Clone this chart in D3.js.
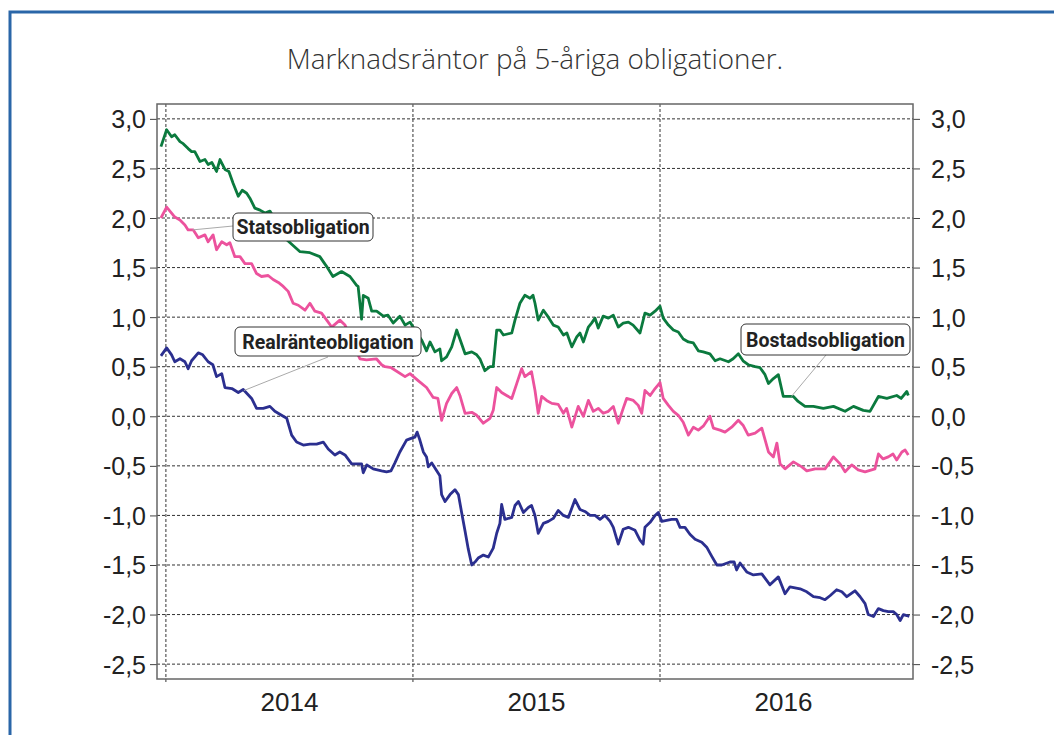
<!DOCTYPE html>
<html>
<head>
<meta charset="utf-8">
<script src="https://cdn.jsdelivr.net/npm/d3@7"></script>
<style>
  body { margin: 0; background: #fff; }
  svg { display: block; }
</style>
</head>
<body>
<div id="chart"></div>
<script>
// values: [decimal year, percent]
var bostad = [
  [2013.980,2.72],[2014.003,2.89],[2014.023,2.82],[2014.036,2.84],[2014.057,2.77],[2014.070,2.75],
  [2014.090,2.70],[2014.104,2.67],[2014.117,2.67],[2014.138,2.57],[2014.158,2.59],[2014.171,2.54],
  [2014.186,2.56],[2014.205,2.47],[2014.219,2.59],[2014.239,2.49],[2014.255,2.47],[2014.272,2.35],
  [2014.293,2.22],[2014.309,2.28],[2014.327,2.25],[2014.340,2.20],[2014.360,2.10],[2014.381,2.08],
  [2014.401,2.05],[2014.421,2.07],[2014.489,1.78],[2014.543,1.66],[2014.583,1.65],[2014.623,1.61],
  [2014.651,1.51],[2014.676,1.41],[2014.711,1.46],[2014.745,1.41],[2014.772,1.32],[2014.778,1.31],
  [2014.792,0.98],[2014.799,1.22],[2014.819,1.19],[2014.833,1.06],[2014.853,1.06],[2014.880,1.01],
  [2014.899,1.02],[2014.920,0.94],[2014.947,1.01],[2014.968,0.92],[2014.988,0.95],[2015.008,0.87],
  [2015.035,0.77],[2015.055,0.66],[2015.069,0.75],[2015.089,0.65],[2015.109,0.68],[2015.116,0.56],
  [2015.136,0.60],[2015.157,0.70],[2015.177,0.87],[2015.190,0.78],[2015.211,0.63],[2015.238,0.65],
  [2015.258,0.62],[2015.271,0.58],[2015.291,0.46],[2015.312,0.50],[2015.325,0.50],[2015.339,0.87],
  [2015.352,0.87],[2015.366,0.82],[2015.400,0.84],[2015.413,0.97],[2015.433,1.14],[2015.453,1.22],
  [2015.474,1.19],[2015.486,1.22],[2015.494,1.14],[2015.507,0.97],[2015.528,1.07],[2015.548,1.00],
  [2015.568,0.92],[2015.588,0.90],[2015.609,0.82],[2015.623,0.84],[2015.643,0.70],[2015.663,0.80],
  [2015.676,0.84],[2015.690,0.75],[2015.710,0.90],[2015.723,0.94],[2015.737,0.99],[2015.750,0.89],
  [2015.770,1.01],[2015.791,0.99],[2015.811,1.02],[2015.831,0.90],[2015.851,0.94],[2015.872,0.95],
  [2015.891,0.92],[2015.919,0.84],[2015.939,1.04],[2015.960,1.02],[2015.980,1.06],[2016.000,1.11],
  [2016.013,0.99],[2016.034,0.92],[2016.054,0.87],[2016.074,0.85],[2016.094,0.78],[2016.115,0.75],
  [2016.135,0.74],[2016.155,0.66],[2016.175,0.65],[2016.202,0.63],[2016.223,0.56],[2016.243,0.58],
  [2016.277,0.55],[2016.296,0.58],[2016.317,0.63],[2016.336,0.56],[2016.357,0.52],[2016.385,0.50],
  [2016.405,0.49],[2016.425,0.42],[2016.439,0.33],[2016.459,0.38],[2016.479,0.42],[2016.499,0.20],
  [2016.540,0.20],[2016.559,0.15],[2016.587,0.10],[2016.621,0.10],[2016.661,0.08],[2016.702,0.10],
  [2016.749,0.05],[2016.783,0.10],[2016.823,0.06],[2016.850,0.05],[2016.884,0.20],[2016.918,0.18],
  [2016.958,0.21],[2016.976,0.18],[2016.999,0.25],[2017.005,0.21]
];

var stats = [
  [2013.980,2.00],[2014.003,2.11],[2014.023,2.05],[2014.036,2.01],[2014.057,1.98],[2014.077,1.93],
  [2014.090,1.88],[2014.111,1.88],[2014.131,1.80],[2014.158,1.83],[2014.171,1.76],[2014.191,1.83],
  [2014.205,1.68],[2014.226,1.76],[2014.246,1.73],[2014.259,1.75],[2014.279,1.61],[2014.300,1.61],
  [2014.320,1.54],[2014.347,1.54],[2014.367,1.44],[2014.387,1.41],[2014.414,1.42],[2014.434,1.38],
  [2014.455,1.35],[2014.475,1.31],[2014.495,1.26],[2014.515,1.14],[2014.536,1.12],[2014.563,1.07],
  [2014.583,1.14],[2014.603,1.06],[2014.630,1.04],[2014.651,0.97],[2014.671,0.90],[2014.704,0.97],
  [2014.725,0.92],[2014.785,0.58],[2014.812,0.57],[2014.852,0.58],[2014.873,0.52],[2014.887,0.50],
  [2014.912,0.49],[2014.968,0.40],[2014.988,0.43],[2015.021,0.36],[2015.055,0.29],[2015.082,0.19],
  [2015.101,0.18],[2015.116,-0.04],[2015.136,0.13],[2015.157,0.23],[2015.177,0.29],[2015.190,0.21],
  [2015.211,0.03],[2015.238,0.04],[2015.258,0.01],[2015.285,-0.07],[2015.312,-0.02],[2015.325,0.06],
  [2015.339,0.29],[2015.359,0.24],[2015.379,0.21],[2015.400,0.18],[2015.420,0.33],[2015.440,0.48],
  [2015.453,0.40],[2015.480,0.45],[2015.494,0.26],[2015.507,0.03],[2015.521,0.20],[2015.541,0.16],
  [2015.562,0.13],[2015.588,0.12],[2015.609,0.03],[2015.622,0.08],[2015.643,-0.11],[2015.669,0.10],
  [2015.690,0.00],[2015.710,0.16],[2015.730,0.05],[2015.750,0.08],[2015.770,0.03],[2015.791,0.05],
  [2015.811,0.10],[2015.831,-0.07],[2015.851,0.08],[2015.865,0.18],[2015.892,0.16],[2015.912,0.11],
  [2015.926,0.03],[2015.939,0.26],[2015.960,0.21],[2015.980,0.28],[2016.000,0.34],[2016.013,0.18],
  [2016.034,0.11],[2016.054,0.05],[2016.074,0.01],[2016.094,-0.06],[2016.115,-0.19],[2016.135,-0.11],
  [2016.155,-0.14],[2016.175,-0.10],[2016.202,0.00],[2016.216,-0.12],[2016.243,-0.14],[2016.263,-0.16],
  [2016.290,-0.11],[2016.317,-0.04],[2016.336,-0.09],[2016.357,-0.19],[2016.385,-0.17],[2016.412,-0.12],
  [2016.439,-0.36],[2016.459,-0.41],[2016.473,-0.27],[2016.486,-0.48],[2016.506,-0.53],[2016.540,-0.46],
  [2016.574,-0.51],[2016.594,-0.55],[2016.628,-0.53],[2016.668,-0.53],[2016.702,-0.41],[2016.729,-0.48],
  [2016.749,-0.56],[2016.776,-0.49],[2016.802,-0.54],[2016.830,-0.56],[2016.870,-0.53],[2016.884,-0.38],
  [2016.903,-0.43],[2016.924,-0.41],[2016.943,-0.38],[2016.958,-0.44],[2016.979,-0.36],[2016.992,-0.34],
  [2017.005,-0.39]
];

var real = [
  [2013.980,0.61],[2014.003,0.69],[2014.023,0.62],[2014.036,0.55],[2014.057,0.58],[2014.077,0.55],
  [2014.090,0.48],[2014.104,0.56],[2014.131,0.64],[2014.149,0.62],[2014.171,0.55],[2014.190,0.52],
  [2014.205,0.40],[2014.226,0.43],[2014.239,0.29],[2014.267,0.28],[2014.293,0.24],[2014.313,0.27],
  [2014.347,0.18],[2014.367,0.08],[2014.394,0.08],[2014.421,0.10],[2014.441,0.05],[2014.468,0.01],
  [2014.489,-0.02],[2014.509,-0.19],[2014.529,-0.26],[2014.556,-0.29],[2014.583,-0.28],[2014.610,-0.28],
  [2014.637,-0.26],[2014.657,-0.33],[2014.684,-0.39],[2014.704,-0.36],[2014.725,-0.39],[2014.752,-0.48],
  [2014.772,-0.48],[2014.792,-0.48],[2014.799,-0.57],[2014.813,-0.49],[2014.839,-0.53],[2014.873,-0.55],
  [2014.893,-0.56],[2014.911,-0.55],[2014.927,-0.47],[2014.947,-0.36],[2014.974,-0.24],[2014.995,-0.22],
  [2015.008,-0.21],[2015.017,-0.16],[2015.028,-0.24],[2015.042,-0.36],[2015.055,-0.41],[2015.062,-0.51],
  [2015.076,-0.47],[2015.096,-0.55],[2015.109,-0.60],[2015.116,-0.79],[2015.130,-0.86],[2015.150,-0.79],
  [2015.170,-0.74],[2015.184,-0.79],[2015.197,-0.97],[2015.211,-1.16],[2015.224,-1.34],[2015.238,-1.50],
  [2015.251,-1.47],[2015.264,-1.43],[2015.285,-1.40],[2015.305,-1.42],[2015.325,-1.33],[2015.339,-1.18],
  [2015.352,-1.08],[2015.359,-0.89],[2015.372,-1.04],[2015.400,-1.02],[2015.413,-0.90],[2015.427,-0.86],
  [2015.447,-0.97],[2015.467,-0.92],[2015.480,-0.90],[2015.494,-1.00],[2015.507,-1.18],[2015.528,-1.08],
  [2015.548,-1.06],[2015.568,-1.03],[2015.588,-0.95],[2015.609,-1.00],[2015.629,-1.02],[2015.656,-0.84],
  [2015.676,-0.94],[2015.696,-0.96],[2015.717,-1.00],[2015.737,-1.00],[2015.757,-1.04],[2015.777,-1.00],
  [2015.798,-1.06],[2015.811,-1.12],[2015.831,-1.29],[2015.851,-1.14],[2015.872,-1.12],[2015.899,-1.15],
  [2015.919,-1.25],[2015.932,-1.29],[2015.939,-1.12],[2015.960,-1.07],[2015.980,-1.00],[2015.993,-0.97],
  [2016.007,-1.06],[2016.027,-1.05],[2016.047,-1.04],[2016.067,-1.04],[2016.081,-1.12],[2016.101,-1.12],
  [2016.121,-1.19],[2016.142,-1.24],[2016.169,-1.27],[2016.189,-1.32],[2016.209,-1.41],[2016.230,-1.50],
  [2016.250,-1.50],[2016.283,-1.47],[2016.300,-1.47],[2016.310,-1.55],[2016.324,-1.48],[2016.351,-1.57],
  [2016.378,-1.60],[2016.412,-1.59],[2016.445,-1.70],[2016.479,-1.62],[2016.506,-1.79],[2016.526,-1.72],
  [2016.567,-1.74],[2016.594,-1.77],[2016.621,-1.82],[2016.648,-1.83],[2016.668,-1.85],[2016.688,-1.81],
  [2016.715,-1.75],[2016.736,-1.77],[2016.756,-1.82],[2016.789,-1.76],[2016.810,-1.82],[2016.830,-1.89],
  [2016.843,-2.00],[2016.864,-2.02],[2016.884,-1.94],[2016.904,-1.96],[2016.924,-1.97],[2016.944,-1.97],
  [2016.958,-2.00],[2016.972,-2.06],[2016.985,-2.00],[2016.999,-2.01],[2017.009,-2.02]
];

var yTicks = [-2.5, -2.0, -1.5, -1.0, -0.5, 0.0, 0.5, 1.0, 1.5, 2.0, 2.5, 3.0];
var years = [2014, 2015, 2016];
var yearBounds = [2014, 2015, 2016];

var width = 1054, height = 735;
var plotL = 157, plotR = 913, plotT = 104, plotB = 679;

var svg = d3.select("#chart").append("svg")
    .attr("width", width)
    .attr("height", height);

// blue frame round the panel
svg.append("rect")
    .attr("x", 10).attr("y", 12)
    .attr("width", 1100).attr("height", 800)
    .attr("fill", "none")
    .attr("stroke", "#2a66a8")
    .attr("stroke-width", 3);

svg.append("text")
    .attr("x", 535).attr("y", 69)
    .attr("text-anchor", "middle")
    .attr("font-family", "'Open Sans', sans-serif")
    .attr("font-weight", 300)
    .attr("font-size", 27.8)
    .attr("fill", "#333")
    .text("Marknadsräntor på 5-åriga obligationer.");

var x = d3.scaleLinear().domain([2013.964, 2017.024]).range([plotL, plotR]);
var y = d3.scaleLinear().domain([-2.65, 3.15]).range([plotB, plotT]);

var fmt = function(d) { return d.toFixed(1).replace(".", ","); };

// grid
svg.append("g").selectAll("line")
  .data(yTicks).enter().append("line")
    .attr("x1", plotL).attr("x2", plotR)
    .attr("y1", function(d) { return y(d); })
    .attr("y2", function(d) { return y(d); })
    .attr("stroke", "#333").attr("stroke-width", 1)
    .attr("stroke-dasharray", "3,2");

svg.append("g").selectAll("line")
  .data(yearBounds).enter().append("line")
    .attr("x1", function(d) { return x(d); })
    .attr("x2", function(d) { return x(d); })
    .attr("y1", plotT).attr("y2", plotB + 5)
    .attr("stroke", "#333").attr("stroke-width", 1)
    .attr("stroke-dasharray", "3,2");

// axes
var axisFont = "'Liberation Sans', Arial, sans-serif";
var gl = svg.append("g").attr("transform", "translate(" + plotL + ",0)")
    .call(d3.axisLeft(y).tickValues(yTicks).tickFormat(fmt).tickSize(7).tickPadding(4));
var gr = svg.append("g").attr("transform", "translate(" + plotR + ",0)")
    .call(d3.axisRight(y).tickValues(yTicks).tickFormat(fmt).tickSize(7).tickPadding(11));
[gl, gr].forEach(function(g) {
  g.select(".domain").remove();
  g.selectAll("line").attr("stroke", "#444");
  g.selectAll("text").attr("font-family", axisFont).attr("font-size", 25)
    .attr("fill", "#222").attr("dy", "0.36em");
});

svg.append("g").selectAll("text")
  .data(years).enter().append("text")
    .attr("x", function(d) { return x(d + 0.5); })
    .attr("y", 711)
    .attr("text-anchor", "middle")
    .attr("font-family", axisFont).attr("font-size", 26)
    .attr("fill", "#222")
    .text(function(d) { return d; });

// plot frame
svg.append("rect")
    .attr("x", plotL).attr("y", plotT)
    .attr("width", plotR - plotL).attr("height", plotB - plotT)
    .attr("fill", "none").attr("stroke", "#666").attr("stroke-width", 1.5);

var line = d3.line()
    .x(function(d) { return x(d[0]); })
    .y(function(d) { return y(d[1]); });

var series = [
  { data: bostad, color: "#0b7a3e" },
  { data: stats, color: "#ec529d" },
  { data: real, color: "#2b2f8f" }
];
series.forEach(function(s) {
  svg.append("path")
    .datum(s.data)
    .attr("d", line)
    .attr("fill", "none")
    .attr("stroke", s.color)
    .attr("stroke-width", 2.8)
    .attr("stroke-linejoin", "round");
});

// callouts
var labels = [
  { text: "Statsobligation", bx: 233, by: 213, bw: 140, bh: 28, px: 2014.108, pv: 1.88, ax: 233, ay: 226 },
  { text: "Realränteobligation", bx: 235, by: 327, bw: 186, bh: 29, px: 2014.316, pv: 0.26, ax: 328, ay: 357 },
  { text: "Bostadsobligation", bx: 741, by: 324, bw: 169, bh: 31, px: 2016.532, pv: 0.20, ax: 826, ay: 355 }
];
labels.forEach(function(l) {
  svg.append("line")
    .attr("x1", x(l.px)).attr("y1", y(l.pv))
    .attr("x2", l.ax).attr("y2", l.ay)
    .attr("stroke", "#aaa").attr("stroke-width", 1);
  svg.append("rect")
    .attr("x", l.bx).attr("y", l.by)
    .attr("width", l.bw).attr("height", l.bh)
    .attr("rx", 5)
    .attr("fill", "#fff").attr("stroke", "#333").attr("stroke-width", 1);
  svg.append("text")
    .attr("x", l.bx + l.bw / 2).attr("y", l.by + l.bh / 2)
    .attr("dy", "0.36em")
    .attr("text-anchor", "middle")
    .attr("font-family", "Roboto, sans-serif")
    .attr("font-weight", 700)
    .attr("font-size", 19.5)
    .attr("fill", "#222")
    .text(l.text);
});
</script>
</body>
</html>
